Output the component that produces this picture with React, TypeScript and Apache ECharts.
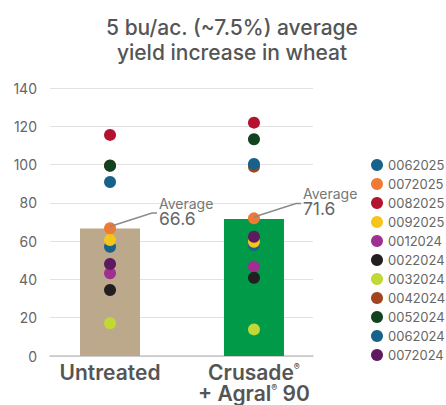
import React, { useEffect, useRef } from "react";
import * as echarts from "echarts";

const categories = ["Untreated", "Crusade® + Agral® 90"];
const trials = [
  "0062025", "0072025", "0082025", "0092025", "0012024", "0022024",
  "0032024", "0042024", "0052024", "0062024", "0072024",
];
const trialColors = [
  "#17628a", "#f07a34", "#b5122f", "#f5c518", "#a0308f", "#231f20",
  "#c2d835", "#a0451f", "#10431e", "#17628a", "#5e1a5e",
];
const untreatedYield = [57.1, 66.7, 115.5, 60.6, 43.2, 34.5, 17.1, 99.5, 99.4, 90.9, 48.1];
const treatedYield = [58.0, 71.9, 121.9, 59.7, 46.7, 40.9, 13.9, 98.9, 113.2, 100.3, 62.3];
const averages = [66.6, 71.6];
const barColors = ["#bca88b", "#009a49"];
const yTicks = [0, 20, 40, 60, 80, 100, 120, 140];

const FONT = "Inter, 'Noto Sans', sans-serif";

export default function App() {
  const ref = useRef<HTMLDivElement>(null);
  useEffect(() => {
    document.body.style.margin = "0";
    const chart = echarts.init(ref.current!, null, { renderer: "svg" });
    const scatterSeries = trials.map((name, i) => ({
      name,
      type: "scatter",
      symbol: "circle",
      symbolSize: 12,
      itemStyle: { color: trialColors[i], opacity: 1 },
      data: [
        [0, untreatedYield[i]],
        [1, treatedYield[i]],
      ],
      z: 3,
    }));
    chart.setOption({
      animation: false,
      textStyle: { fontFamily: FONT },
      title: {
        text: "5 bu/ac. (~7.5%) average\nyield increase in wheat",
        left: 227,
        textAlign: "center",
        top: 10,
        textStyle: {
          fontFamily: FONT,
          fontSize: 21,
          lineHeight: 25,
          fontWeight: 500,
          color: "#555555",
        },
      },
      legend: {
        orient: "vertical",
        left: 366,
        top: 153,
        itemWidth: 12,
        itemHeight: 12,
        itemGap: 5,
        icon: "circle",
        data: trials.map((t, i) => ({ name: t, itemStyle: { color: trialColors[i] } })),
        textStyle: { fontFamily: FONT, fontSize: 13, lineHeight: 14, color: "#666666" },
        selectedMode: false,
      },
      grid: { left: 50, right: 133, top: 88, bottom: 49, containLabel: false },
      xAxis: {
        type: "value",
        min: -0.417,
        max: 1.41,
        splitLine: { show: false },
        axisTick: { show: false },
        axisLine: { show: true, lineStyle: { color: "#c4c4c4", width: 1.5 } },
        axisLabel: {
          customValues: [0, 1],
          margin: 6,
          fontFamily: FONT,
          fontSize: 21,
          fontWeight: 600,
          lineHeight: 21,
          color: "#555555",
          formatter: (v: number) =>
            Math.round(v) === 0
              ? categories[0]
              : "Crusade{sup|®}\n+ Agral{sup|®} 90",
          rich: {
            sup: {
              fontFamily: FONT,
              fontSize: 9,
              fontWeight: 600,
              color: "#555555",
              verticalAlign: "top",
              lineHeight: 10,
            },
          },
        },
      },
      yAxis: {
        type: "value",
        min: yTicks[0],
        max: yTicks[yTicks.length - 1],
        interval: 20,
        axisLine: { show: false },
        axisTick: { show: false },
        splitLine: { lineStyle: { color: "#e2e2e2", width: 1 } },
        axisLabel: { fontFamily: FONT, fontSize: 14, color: "#666666", margin: 13 },
      },
      series: [
        {
          type: "bar",
          barWidth: 60,
          data: averages.map((v, i) => ({ value: [i, v], itemStyle: { color: barColors[i] } })),
          z: 1,
          silent: true,
        },
        ...scatterSeries,
        {
          type: "custom",
          clip: false,
          z: 5,
          silent: true,
          data: averages.map((v, i) => [i, v]),
          renderItem: (params: any, api: any) => {
            const p = api.coord([api.value(0), api.value(1)]);
            const x = p[0];
            const y = p[1];
            return {
              type: "group",
              children: [
                {
                  type: "polyline",
                  shape: {
                    points: [
                      [x, y - 2],
                      [x + 42, y - 15.5],
                      [x + 47, y - 15.5],
                    ],
                  },
                  style: { stroke: "#8a8a8a", lineWidth: 1.5, fill: null },
                },
                {
                  type: "text",
                  style: {
                    text: "{a|Average}\n{b|" + api.value(1).toFixed(1) + "}",
                    x: x + 49,
                    y: y - 32,
                    verticalAlign: "top",
                    align: "left",
                    fontFamily: FONT,
                    rich: {
                      a: { fontSize: 14, lineHeight: 14, fill: "#777777", fontFamily: FONT },
                      b: { fontSize: 17.5, lineHeight: 15, fill: "#666666", fontFamily: FONT },
                    },
                  },
                },
              ],
            };
          },
        },
      ],
    });
    return () => chart.dispose();
  }, []);
  return (
    <div
      ref={ref}
      style={{ position: "absolute", left: 0, top: 0, width: 446, height: 405 }}
    />
  );
}
